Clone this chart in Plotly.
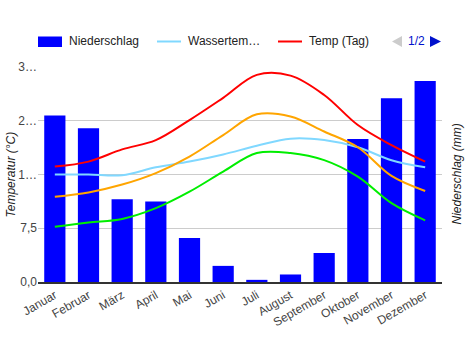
import plotly.graph_objects as go

monate = ["Januar", "Februar", "März", "April", "Mai", "Juni", "Juli",
          "August", "September", "Oktober", "November", "Dezember"]
niederschlag = [155, 143, 77, 75, 41, 15, 2, 7, 27, 133, 171, 187]
wassertemp = [15.0, 15.0, 14.9, 16.0, 16.8, 17.8, 19.0, 20.0, 19.8, 18.8, 17.0, 16.0]
temp_tag = [16.1, 16.8, 18.5, 19.8, 22.6, 25.7, 28.9, 28.8, 26.1, 21.9, 19.1, 16.8]
temp_mittel = [11.9, 12.5, 13.6, 15.2, 17.5, 20.5, 23.4, 23.1, 21.0, 18.8, 14.8, 12.7]
temp_nacht = [7.7, 8.3, 8.8, 10.3, 12.6, 15.4, 18.0, 18.0, 17.0, 14.7, 11.0, 8.6]
temp_ticks = [0, 7.5, 15, 22.5, 30]
temp_ticktext = ["0,0", "7,5", "1…", "2…", "3…"]
mm_ticks = [0, 50, 100, 150, 200]

FONT = "Liberation Sans, Arial, sans-serif"
W, H = 470, 350
L, R, T, B = 38, 442, 67, 282


def px(x):
    return (x - L) / (R - L)


def py(y):
    return (B - y) / (B - T)


fig = go.Figure()
fig.add_trace(go.Bar(x=monate, y=niederschlag, name="Niederschlag",
                     marker=dict(color="#0000ff", line=dict(width=0)),
                     yaxis="y"))
line_series = [
    ("Wassertemperatur", wassertemp, "#80d8ff"),
    ("Temp (Tag)", temp_tag, "#ff0000"),
    ("Temp (Mittel)", temp_mittel, "#ffa500"),
    ("Temp (Nacht)", temp_nacht, "#00ee00"),
]
for name, vals, col in line_series:
    fig.add_trace(go.Scatter(x=monate, y=vals, name=name, mode="lines",
                             line=dict(color=col, width=2, shape="spline", smoothing=1),
                             yaxis="y2"))

shapes = []
annotations = []
# manual legend
ly = 41.5
shapes.append(dict(type="rect", xref="paper", yref="paper",
                   x0=px(38), x1=px(62), y0=py(36.5), y1=py(47), fillcolor="#0000ff",
                   line=dict(width=0)))
shapes.append(dict(type="line", xref="paper", yref="paper",
                   x0=px(157), x1=px(181), y0=py(ly), y1=py(ly),
                   line=dict(color="#80d8ff", width=2)))
shapes.append(dict(type="line", xref="paper", yref="paper",
                   x0=px(278), x1=px(302), y0=py(ly), y1=py(ly),
                   line=dict(color="#ff0000", width=2)))
for xx, txt in [(67, "Niederschlag"), (186, "Wassertem…"), (307, "Temp (Tag)")]:
    annotations.append(dict(x=px(xx), y=py(ly), xref="paper", yref="paper",
                            text=txt, showarrow=False, xanchor="left", yanchor="middle",
                            font=dict(family=FONT, size=12, color="#222222")))
# pagination
shapes.append(dict(type="path", xref="paper", yref="paper",
                   path=f"M {px(392)} {py(ly)} L {px(402)} {py(36)} L {px(402)} {py(47)} Z",
                   fillcolor="#cccccc", line=dict(width=0)))
shapes.append(dict(type="path", xref="paper", yref="paper",
                   path=f"M {px(430)} {py(36)} L {px(441)} {py(ly)} L {px(430)} {py(47)} Z",
                   fillcolor="#0011cc", line=dict(width=0)))
annotations.append(dict(x=px(416), y=py(ly), xref="paper", yref="paper",
                        text="1/2", showarrow=False, xanchor="center", yanchor="middle",
                        font=dict(family=FONT, size=12, color="#0011cc")))
# axis titles
annotations.append(dict(x=px(10), y=0.5, xref="paper", yref="paper",
                        text="<i>Temperatur (°C)</i>", showarrow=False, textangle=-90,
                        xanchor="center", yanchor="middle",
                        font=dict(family=FONT, size=12, color="#222222")))
annotations.append(dict(x=px(456), y=0.5, xref="paper", yref="paper",
                        text="<i>Niederschlag (mm)</i>", showarrow=False, textangle=-90,
                        xanchor="center", yanchor="middle",
                        font=dict(family=FONT, size=12, color="#222222")))

fig.update_layout(
    width=W, height=H,
    margin=dict(l=L, r=W - R, t=T, b=H - B, pad=0),
    paper_bgcolor="white", plot_bgcolor="white",
    showlegend=False,
    bargap=0.37,
    font=dict(family=FONT, size=12, color="#444444"),
    xaxis=dict(type="category", range=[-0.5, 11.5], tickangle=-30,
               showline=True, linecolor="#333333", linewidth=1.5,
               showgrid=False, ticks="", tickfont=dict(size=12, color="#444444")),
    yaxis=dict(side="right", range=[0, 200], tickvals=mm_ticks, showticklabels=False,
               showgrid=True, gridcolor="#cccccc", gridwidth=1, zeroline=False, ticks=""),
    yaxis2=dict(side="left", overlaying="y", range=[0, 30], tickvals=temp_ticks,
                ticktext=temp_ticktext, showgrid=False, zeroline=False, ticks="",
                tickfont=dict(size=12, color="#444444")),
    shapes=shapes, annotations=annotations,
)

fig.write_html("out.html")
